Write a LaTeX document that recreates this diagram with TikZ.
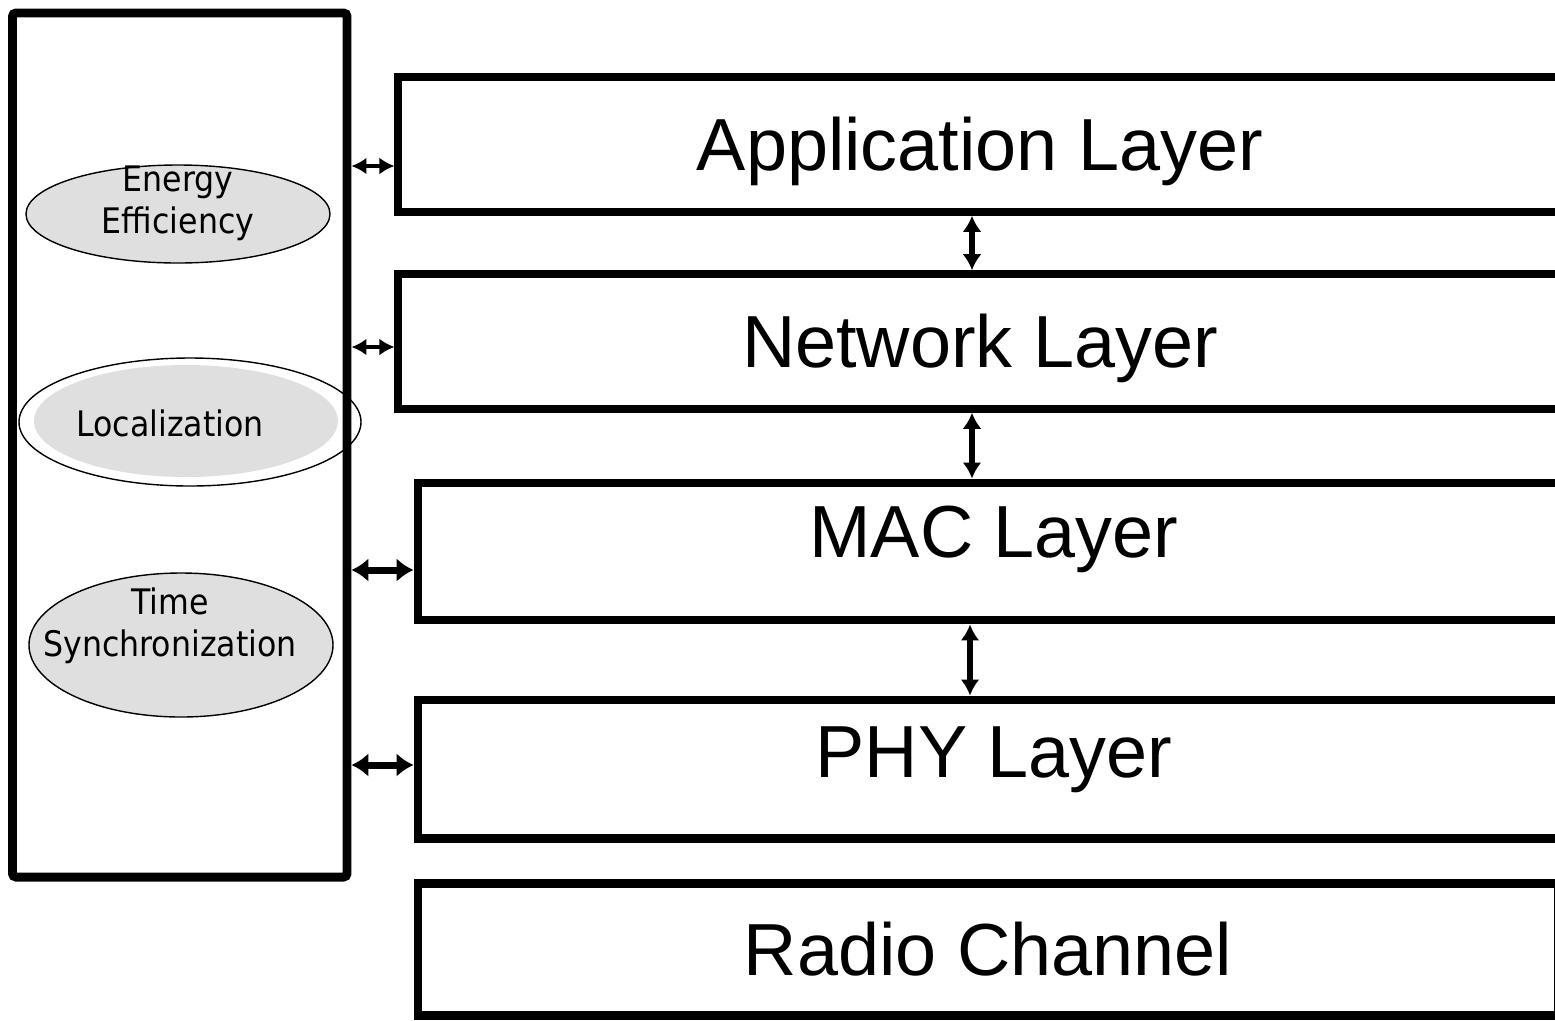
\documentclass[tikz,border=0pt]{standalone}
\usepackage{fontspec}
\setmainfont{Liberation Sans}
\newfontfamily\ovalfont[FakeStretch=0.9]{DejaVu Sans}
\usetikzlibrary{arrows.meta,shapes.geometric}

\begin{document}
\begin{tikzpicture}[
	layer/.style = {draw, line width = 4.3pt, minimum width = 23.27cm, minimum height = 2.7cm,
		inner sep = 0pt, text height = 30pt, text depth = 0pt, font = \fontsize{42}{50}\selectfont},
	thick layer/.style = {layer, line width = 5.1pt, minimum width = 23.04cm, minimum height = 2.74cm},
	oval/.style = {draw, ellipse, fill = gray!25, line width = 0.8pt, inner sep = 0pt, minimum width = 6.08cm},
	ovaltext/.style = {align = center, inner sep = 0pt, font = \ovalfont\fontsize{20}{24}\selectfont},
	small arrow/.style = {line width = 2.4pt, >={Latex[length=3mm,width=3.4mm]}, <->},
	big arrow/.style = {line width = 4pt, >={Latex[length=3.4mm,width=4.8mm]}, <->},
	layer arrow/.style = {line width = 3pt, >={Latex[length=3.2mm,width=3.8mm]}, <->}
	]

	\useasboundingbox (0,0) rectangle (31.1,-20.4);
	\clip (0,0) rectangle (31.1,-20.4);

	\node [draw, line width = 5.1pt, rounded corners = 2pt, minimum width = 6.69cm, minimum height = 17.28cm] (side) at (3.595,-8.9) {};

	\node [oval, minimum height = 1.96cm] (energy) at (3.56,-4.28) {};
	\node [ovaltext] (energytxt) at (3.56,-4.06) {Energy\\Efficiency};

	\node [draw, ellipse, line width = 0.8pt, minimum width = 6.84cm, minimum height = 2.56cm] (local) at (3.8,-8.44) {};
	\node [ellipse, fill = gray!25, minimum width = 6.08cm, minimum height = 2.24cm] (localin) at (3.72,-8.42) {};
	\node [ovaltext] (localtxt) at (3.4,-8.46) {Localization};

	\node [oval, minimum height = 2.88cm] (timesync) at (3.62,-12.9) {};
	\node [ovaltext] (timesynctxt) at (3.4,-12.52) {Time\\Synchronization};

	\node [layer] (app) at (19.6,-2.89) {Application Layer};
	\node [layer] (net) at (19.6,-6.83) {Network Layer};
	\node [thick layer, text depth = 0.8cm] (mac) at (19.88,-11.03) {MAC Layer};
	\node [thick layer, text depth = 0.7cm, minimum height = 2.76cm] (phy) at (19.88,-15.38) {PHY Layer};
	\node [thick layer, minimum width = 22.8cm, minimum height = 2.64cm] (radio) at (19.76,-18.98) {Radio Channel};

	\coordinate (h1) at ([yshift = -0.43cm]app.west);
	\coordinate (h2) at ([yshift = -0.11cm]net.west);
	\coordinate (h3) at ([yshift = -0.37cm]mac.west);
	\coordinate (h4) at ([yshift = 0.08cm]phy.west);

	\draw [small arrow] (side.east |- h1) -- (h1);
	\draw [small arrow] (side.east |- h2) -- (h2);
	\draw [big arrow] (side.east |- h3) -- (h3);
	\draw [big arrow] (side.east |- h4) -- (h4);

	\coordinate (v1) at ([xshift = -0.16cm]app.south);
	\coordinate (v2) at ([xshift = -0.16cm]net.south);
	\coordinate (v3) at ([xshift = -0.48cm]mac.south);

	\draw [layer arrow] (v1) -- (v1 |- net.north);
	\draw [layer arrow] (v2) -- (v2 |- mac.north);
	\draw [layer arrow] (v3) -- (v3 |- phy.north);

\end{tikzpicture}
\end{document}
